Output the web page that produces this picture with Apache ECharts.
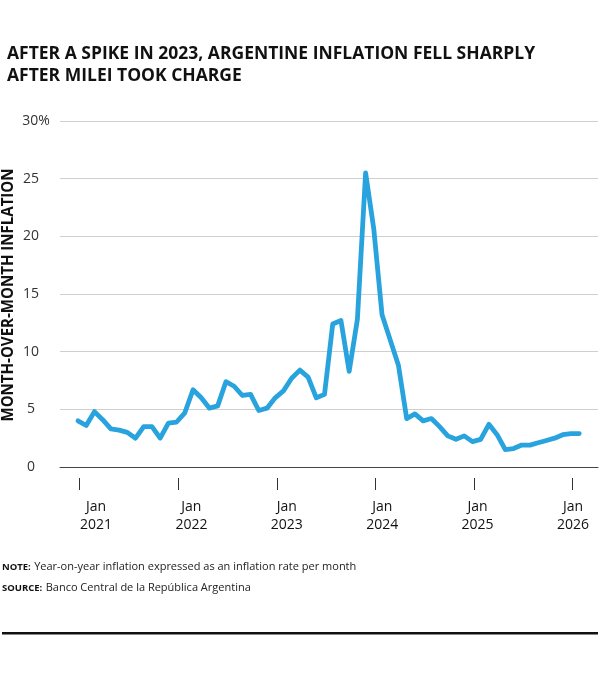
<!DOCTYPE html>
<html>
<head>
<meta charset="utf-8">
<script src="https://cdn.jsdelivr.net/npm/echarts@6/dist/echarts.min.js"></script>
<style>
html,body{margin:0;padding:0;background:#fff;}
#chart{width:600px;height:682px;}
</style>
</head>
<body>
<div id="chart"></div>
<script>
// Monthly inflation (%), Jan 2021 .. Feb 2026
const values = [
  4.0, 3.6, 4.8, 4.1, 3.3, 3.2, 3.0, 2.5, 3.5, 3.5, 2.5, 3.8,
  3.9, 4.7, 6.7, 6.0, 5.1, 5.3, 7.4, 7.0, 6.2, 6.3, 4.9, 5.1,
  6.0, 6.6, 7.7, 8.4, 7.8, 6.0, 6.3, 12.4, 12.7, 8.3, 12.8, 25.5,
  20.6, 13.2, 11.0, 8.8, 4.2, 4.6, 4.0, 4.2, 3.5, 2.7, 2.4, 2.7,
  2.2, 2.4, 3.7, 2.8, 1.5, 1.6, 1.9, 1.9, 2.1, 2.3, 2.5, 2.8,
  2.9, 2.9
];
const yearLabels = ['2021', '2022', '2023', '2024', '2025', '2026'];
const titleText = 'AFTER A SPIKE IN 2023, ARGENTINE INFLATION FELL SHARPLY\nAFTER MILEI TOOK CHARGE';
const yAxisTitle = 'MONTH-OVER-MONTH INFLATION';
const noteText = 'Year-on-year inflation expressed as an inflation rate per month';
const sourceText = 'Banco Central de la República Argentina';

const FONT = 'Open Sans';
const seriesData = values.map((v, i) => [i, v]);
const tickPos = yearLabels.map((y, k) => k * 12 + 0.2);
// labels are spread evenly from just right of the first tick to the last tick
const labelPos = yearLabels.map((y, k) => 2.19 + k * 11.61);

const chart = echarts.init(document.getElementById('chart'), null, {renderer: 'canvas'});
const xMin = -2.19, xMax = 63.28;

chart.setOption({
  animation: false,
  backgroundColor: '#fff',
  title: {
    text: titleText,
    left: 2, top: 38,
    textStyle: {fontFamily: FONT, fontWeight: 'bold', fontSize: 17.5, color: '#111', lineHeight: 22}
  },
  grid: {left: 60, right: 2, top: 121, bottom: 682 - 467, containLabel: false, outerBoundsMode: 'none'},
  xAxis: [
    {
      type: 'value', min: xMin, max: xMax,
      axisLine: {show: true, lineStyle: {color: '#444', width: 1}},
      axisTick: {show: false}, axisLabel: {show: false}, splitLine: {show: false}
    },
    {
      type: 'value', min: xMin, max: xMax, position: 'bottom', offset: 11,
      axisLine: {show: false},
      axisTick: {show: true, customValues: tickPos, length: 12, lineStyle: {color: '#333', width: 1}},
      axisLabel: {
        show: true, customValues: labelPos, margin: 20,
        fontFamily: FONT, fontSize: 14, color: '#111', lineHeight: 18,
        formatter: v => 'Jan\n' + yearLabels[Math.round((v - 2.19) / 11.61)]
      },
      splitLine: {show: false}
    }
  ],
  yAxis: {
    type: 'value', min: 0, max: 30, interval: 5,
    axisLine: {show: false}, axisTick: {show: false},
    axisLabel: {
      margin: 29, align: 'center', fontFamily: FONT, fontSize: 14, color: '#333',
      formatter: v => v === 30 ? '{p|30%}' : String(v),
      rich: {p: {fontFamily: FONT, fontSize: 14, color: '#333', padding: [0, 0, 0, 10]}}
    },
    splitLine: {show: true, lineStyle: {color: '#cfcfcf', width: 1}}
  },
  series: [{
    type: 'line', xAxisIndex: 0, data: seriesData,
    showSymbol: false, symbol: 'none',
    lineStyle: {color: '#29a3dd', width: 4.8, join: 'round', cap: 'round'},
    z: 5
  }],
  graphic: [
    {
      type: 'text', x: 8, y: 295, rotation: Math.PI / 2, scaleX: 0.94,
      style: {
        text: yAxisTitle, fontFamily: FONT, fontWeight: 'bold', fontSize: 16, fill: '#111',
        align: 'center', verticalAlign: 'middle'
      }
    },
    {
      type: 'text', left: 2, top: 561,
      style: {
        text: '{b|NOTE:} {t|' + noteText + '}',
        rich: {
          b: {fontFamily: FONT, fontWeight: 'bold', fontSize: 9.5, fill: '#111'},
          t: {fontFamily: FONT, fontSize: 11, fill: '#222'}
        }
      }
    },
    {
      type: 'text', left: 2, top: 582,
      style: {
        text: '{b|SOURCE:} {t|' + sourceText + '}',
        rich: {
          b: {fontFamily: FONT, fontWeight: 'bold', fontSize: 9.5, fill: '#111'},
          t: {fontFamily: FONT, fontSize: 11, fill: '#222'}
        }
      }
    },
    {
      type: 'rect', shape: {x: 2, y: 632, width: 596, height: 2.5},
      style: {fill: '#111'}
    }
  ]
});
</script>
</body>
</html>
